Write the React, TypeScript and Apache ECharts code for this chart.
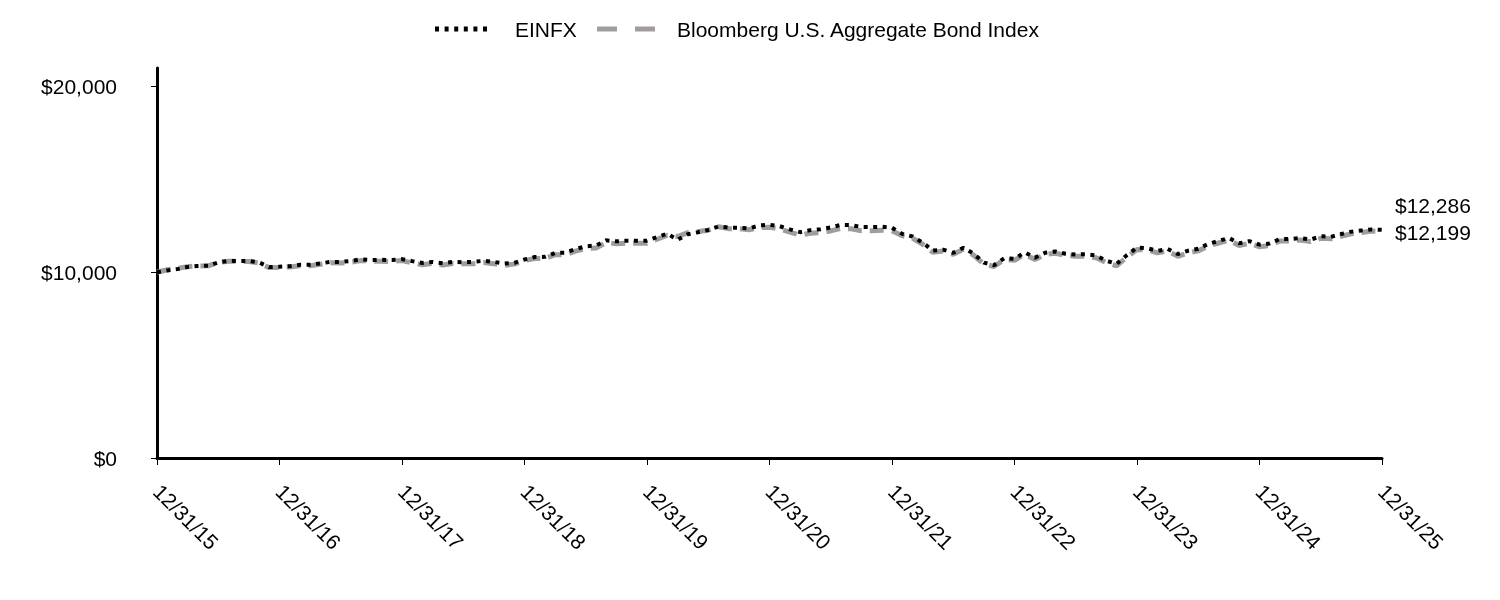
import React, { useEffect, useRef } from "react";
import * as echarts from "echarts";

const tickLabels = ["12/31/15", "12/31/16", "12/31/17", "12/31/18", "12/31/19", "12/31/20", "12/31/21", "12/31/22", "12/31/23", "12/31/24", "12/31/25"];

// monthly values, 12/31/15 .. 12/31/25
const einfx = [
  10000,
  10100, 10170, 10290, 10340, 10350, 10530, 10610, 10610, 10610, 10530, 10280, 10300,
  10330, 10400, 10400, 10480, 10560, 10560, 10610, 10700, 10660, 10670, 10660, 10710,
  10600, 10500, 10560, 10490, 10560, 10540, 10560, 10620, 10560, 10470, 10510, 10690,
  10820, 10830, 11040, 11060, 11250, 11400, 11440, 11720, 11670, 11700, 11700, 11700,
  11900, 12080, 11750, 12050, 12160, 12280, 12470, 12400, 12400, 12360, 12520, 12560,
  12480, 12310, 12160, 12270, 12320, 12420, 12550, 12540, 12440, 12430, 12450, 12400,
  12070, 11930, 11600, 11170, 11220, 11050, 11320, 11000, 10520, 10380, 10760, 10720,
  11070, 10790, 11050, 11120, 11000, 10960, 10970, 10900, 10620, 10450, 10920, 11330,
  11300, 11150, 11260, 10980, 11160, 11270, 11530, 11690, 11850, 11560, 11680, 11490,
  11550, 11790, 11790, 11840, 11760, 11940, 11910, 12060, 12190, 12250, 12310, 12286,
];

const bloomberg = [
  10000,
  10138, 10210, 10304, 10343, 10346, 10532, 10598, 10587, 10580, 10500, 10251, 10265,
  10286, 10355, 10350, 10430, 10510, 10499, 10544, 10639, 10588, 10595, 10581, 10630,
  10508, 10408, 10475, 10397, 10471, 10458, 10460, 10527, 10460, 10377, 10439, 10631,
  10744, 10738, 10944, 10947, 11142, 11282, 11307, 11600, 11538, 11573, 11567, 11559,
  11781, 11993, 11922, 12134, 12191, 12268, 12451, 12350, 12344, 12288, 12409, 12426,
  12337, 12159, 12007, 12102, 12142, 12227, 12364, 12341, 12234, 12230, 12267, 12235,
  11972, 11838, 11509, 11073, 11144, 10969, 11236, 10918, 10447, 10311, 10690, 10642,
  10970, 10686, 10957, 11024, 10904, 10865, 10857, 10788, 10514, 10348, 10817, 11231,
  11201, 11043, 11145, 10863, 11048, 11153, 11414, 11578, 11733, 11442, 11563, 11374,
  11434, 11686, 11690, 11736, 11651, 11831, 11800, 11942, 12072, 12147, 12222, 12199,
];

const yTicks = [0, 10000, 20000];
const seriesNames = ["EINFX", "Bloomberg U.S. Aggregate Bond Index"];

const FONT = "'Liberation Sans', Arial, sans-serif";
const FS = 21;
const BLACK = "#000";
const GRAY = "#a19d9e";
const fmtMoney = (v: number) => "$" + v.toLocaleString("en-US");

export default function App() {
  const ref = useRef<HTMLDivElement>(null);
  useEffect(() => {
    if (!ref.current) return;
    const chart = echarts.init(ref.current, undefined, { renderer: "svg" });
    const toPts = (arr: number[]) => arr.map((v, i) => [i, v]);
    const legendY = 29;
    chart.setOption({
      animation: false,
      textStyle: { fontFamily: FONT },
      graphic: [
        {
          type: "line",
          shape: { x1: 435, y1: legendY, x2: 491, y2: legendY },
          style: { stroke: BLACK, lineWidth: 5, lineDash: [4, 5.6] },
        },
        {
          type: "text",
          x: 515,
          y: legendY,
          style: { text: seriesNames[0], fontSize: FS, fontFamily: FONT, fill: BLACK, verticalAlign: "middle" },
        },
        {
          type: "line",
          shape: { x1: 597, y1: legendY, x2: 656, y2: legendY },
          style: { stroke: GRAY, lineWidth: 5, lineDash: [20, 18] },
        },
        {
          type: "text",
          x: 677,
          y: legendY,
          style: { text: seriesNames[1], fontSize: FS, fontFamily: FONT, fill: BLACK, verticalAlign: "middle" },
        },
      ],
      grid: { left: 157, right: 118, top: 68, bottom: 142, containLabel: false },
      xAxis: {
        type: "value",
        min: 0,
        max: 120,
        interval: 12,
        splitLine: { show: false },
        axisLine: { show: true, lineStyle: { color: BLACK, width: 3 } },
        axisTick: { show: true, length: 7, lineStyle: { color: BLACK, width: 1 } },
        axisLabel: {
          rotate: -45,
          margin: 30,
          fontSize: FS,
          color: BLACK,
          fontFamily: FONT,
          formatter: (v: number) => tickLabels[Math.round(v / 12)] ?? "",
        },
      },
      yAxis: {
        type: "value",
        min: 0,
        max: 21000,
        splitLine: { show: false },
        axisLine: { show: true, lineStyle: { color: BLACK, width: 3 } },
        axisTick: { show: true, length: 6, customValues: yTicks, lineStyle: { color: BLACK, width: 1 } },
        axisLabel: {
          customValues: yTicks,
          margin: 40,
          fontSize: FS,
          color: BLACK,
          fontFamily: FONT,
          formatter: (v: number) => fmtMoney(v),
        },
      },
      series: [
        {
          name: seriesNames[1],
          type: "line",
          data: toPts(bloomberg),
          symbol: "none",
          z: 2,
          lineStyle: { color: GRAY, width: 5, type: [14, 8] },
          itemStyle: { color: GRAY },
          endLabel: {
            show: true,
            distance: 13,
            offset: [0, 1],
            fontSize: FS,
            color: BLACK,
            fontFamily: FONT,
            formatter: (p: any) => fmtMoney(p.value[1]),
          },
        },
        {
          name: seriesNames[0],
          type: "line",
          data: toPts(einfx),
          symbol: "none",
          z: 3,
          lineStyle: { color: BLACK, width: 4, type: [4, 5.5] },
          itemStyle: { color: BLACK },
          endLabel: {
            show: true,
            distance: 13,
            offset: [0, -24],
            fontSize: FS,
            color: BLACK,
            fontFamily: FONT,
            formatter: (p: any) => fmtMoney(p.value[1]),
          },
        },
      ],
    });
    return () => chart.dispose();
  }, []);
  return <div ref={ref} style={{ position: "fixed", left: 0, top: 0, width: 1500, height: 600 }} />;
}
